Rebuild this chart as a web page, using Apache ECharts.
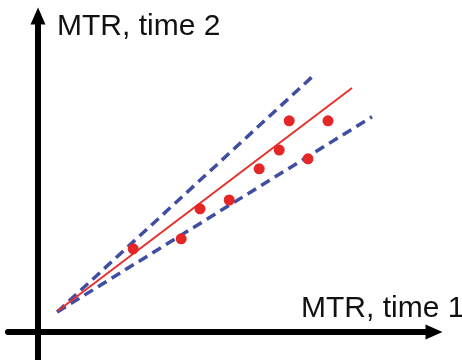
<!DOCTYPE html>
<html>
<head>
<meta charset="utf-8">
<script src="https://cdn.jsdelivr.net/npm/echarts@6/dist/echarts.min.js"></script>
<style>
html,body{margin:0;padding:0;background:#fff;}
#c{width:462px;height:360px;}
</style>
</head>
<body>
<div id="c"></div>
<script>
// Observed measurements (MTR at time 1 vs time 2), arbitrary units
const pointsX = [2.38, 3.58, 4.05, 4.78, 5.53, 6.03, 6.28, 6.75, 7.25];
const pointsY = [2.08, 2.33, 3.08, 3.30, 4.08, 4.55, 5.28, 4.33, 5.28];
// Fitted line (red) and upper / lower bounds (blue dashed)
const fitX = [0.50, 7.85];
const fitY = [0.53, 6.10];
const upperX = [0.48, 6.93];
const upperY = [0.50, 6.45];
const lowerX = [0.48, 8.35];
const lowerY = [0.50, 5.38];
const xAxisName = 'MTR, time 1';
const yAxisName = 'MTR, time 2';

const zip = (a, b) => a.map((v, i) => [v, b[i]]);

const chart = echarts.init(document.getElementById('c'), null, {renderer: 'canvas'});
const axisCommon = {
  type: 'value',
  splitLine: {show: false},
  axisTick: {show: false},
  axisLabel: {show: false},
  axisLine: {
    show: true,
    onZero: true,
    symbol: ['none', 'triangle'],
    symbolSize: [15, 17],
    lineStyle: {color: '#000', width: 6}
  }
};
chart.setOption({
  animation: false,
  backgroundColor: '#fff',
  grid: {left: 8, right: 28, top: 16, bottom: 0, containLabel: false},
  xAxis: Object.assign({}, axisCommon, {min: -0.75, max: 9.9}),
  yAxis: Object.assign({}, axisCommon, {min: -0.7, max: 7.9}),
  graphic: [
    {type: 'text', left: 57, top: 12, style: {text: yAxisName, font: '30px "Liberation Sans", Arial, sans-serif', fill: '#111'}},
    {type: 'text', left: 301, top: 294, style: {text: xAxisName, font: '30px "Liberation Sans", Arial, sans-serif', fill: '#111'}}
  ],
  series: [
    {type: 'line', data: zip(upperX, upperY), showSymbol: false, lineStyle: {color: '#3f4da3', width: 3.5, type: [10, 6]}, z: 2},
    {type: 'line', data: zip(lowerX, lowerY), showSymbol: false, lineStyle: {color: '#3f4da3', width: 3.5, type: [10, 6]}, z: 2},
    {type: 'line', data: zip(fitX, fitY), showSymbol: false, lineStyle: {color: '#e8312f', width: 2}, z: 3},
    {type: 'scatter', data: zip(pointsX, pointsY), symbolSize: 11, itemStyle: {color: '#e52626', opacity: 1}, z: 4}
  ]
});
</script>
</body>
</html>
